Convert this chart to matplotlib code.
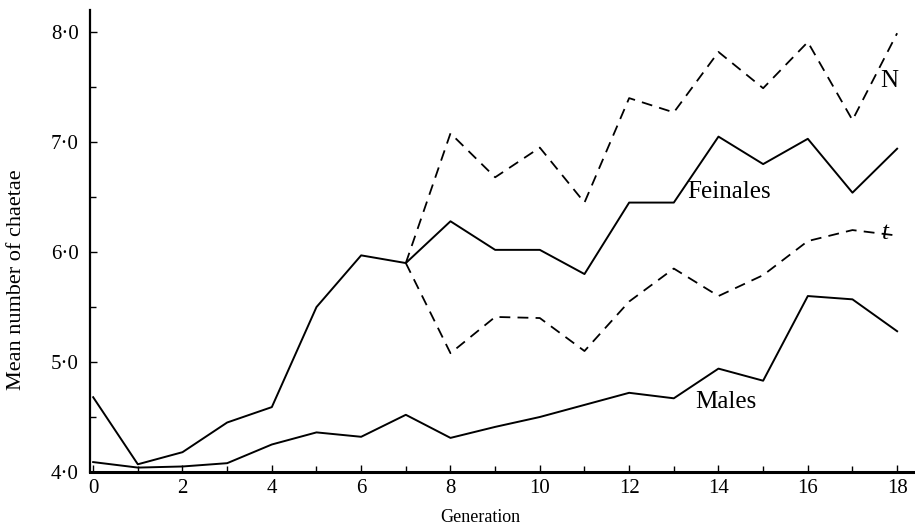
import numpy as np
import matplotlib.pyplot as plt
from matplotlib.ticker import FixedLocator, FuncFormatter

# generations and mean number of chaetae
generation = list(range(0, 19))
females = [4.68, 4.07, 4.18, 4.45, 4.59, 5.50, 5.97, 5.90, 6.28, 6.02,
           6.02, 5.80, 6.45, 6.45, 7.05, 6.80, 7.03, 6.54, 6.94]
males = [4.09, 4.04, 4.05, 4.08, 4.25, 4.36, 4.32, 4.52, 4.31, 4.41,
         4.50, 4.61, 4.72, 4.67, 4.94, 4.83, 5.60, 5.57, 5.28]

# the two selection lines branch off at generation 7
sel_gen = list(range(7, 19))
line_n = [5.90, 7.08, 6.68, 6.95, 6.45, 7.40, 7.27, 7.82, 7.49, 7.91, 7.20, 7.99]
line_t = [5.90, 5.08, 5.41, 5.40, 5.10, 5.55, 5.85, 5.60, 5.79, 6.10, 6.20, 6.15]

plt.rcParams['font.family'] = ['Liberation Serif', 'DejaVu Serif']

fig = plt.figure(figsize=(9.15, 5.26), dpi=100)
ax = fig.add_axes([0.0984, 0.1027, 0.9016, 0.878])

ax.plot(generation, females, color='black', lw=1.4)
ax.plot(generation, males, color='black', lw=1.4)
ax.plot(sel_gen, line_n, color='black', lw=1.3, dashes=(6, 4))
ax.plot(sel_gen, line_t, color='black', lw=1.3, dashes=(6, 4))

ax.set_xlim(-0.07, 18.4)
ax.set_ylim(4.0, 8.2)

for side in ['top', 'right']:
    ax.spines[side].set_visible(False)
ax.spines['left'].set_linewidth(1.6)
ax.spines['bottom'].set_linewidth(2.2)

ax.set_xticks(range(0, 19, 2))
ax.xaxis.set_minor_locator(FixedLocator(range(1, 19, 2)))
ax.set_yticks([4, 5, 6, 7, 8])
ax.yaxis.set_minor_locator(FixedLocator([4.5, 5.5, 6.5, 7.5]))
ax.yaxis.set_major_formatter(FuncFormatter(lambda v, p: f"{v:.1f}".replace('.', '·')))
ax.tick_params(which='both', direction='in', color='black')
ax.tick_params(which='major', length=5, width=1, labelsize=15)
ax.tick_params(which='minor', length=4, width=1)
ax.tick_params(axis='x', pad=5)
ax.tick_params(axis='y', pad=8)

fig.text(480 / 915, 1 - 517 / 526, "Generation", fontsize=13, ha='center', va='center')
fig.text(17 / 915, 1 - 280 / 526, "Mean number of chaetae", fontsize=16,
         rotation=90, ha='center', va='center')

ax.text(17.62, 7.50, "N", fontsize=18)
ax.text(13.3, 6.49, "Feinales", fontsize=18)
ax.text(17.65, 6.12, "t", fontsize=18, style='italic')
ax.text(13.48, 4.58, "Males", fontsize=18)

fig.savefig("out.png", dpi=100)
